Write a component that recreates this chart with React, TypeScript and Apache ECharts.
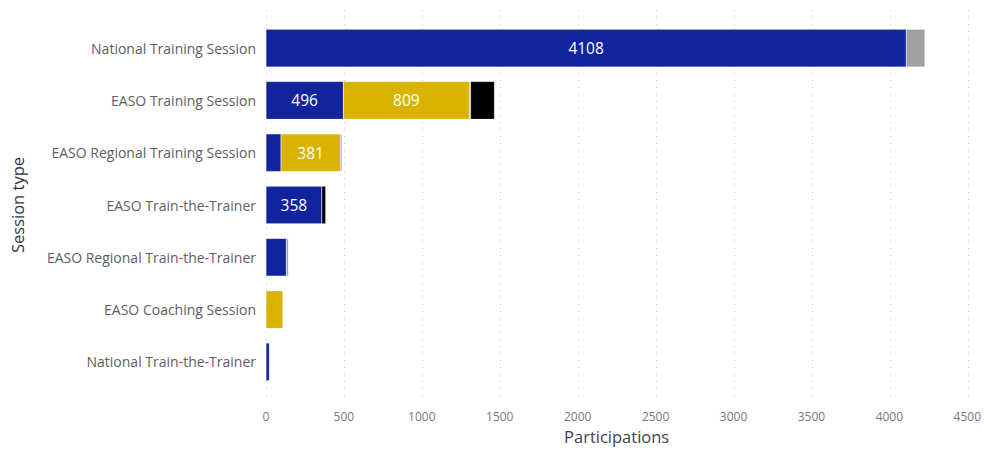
import React, { useEffect, useRef } from "react";
import * as echarts from "echarts";

const categories = [
  "National Training Session",
  "EASO Training Session",
  "EASO Regional Training Session",
  "EASO Train-the-Trainer",
  "EASO Regional Train-the-Trainer",
  "EASO Coaching Session",
  "National Train-the-Trainer",
];

const blueValues = [4108, 496, 96, 358, 130, 0, 22];
const yellowValues = [0, 809, 381, 0, 0, 108, 0];
const grayValues = [120, 8, 10, 0, 14, 0, 0];
const blackValues = [0, 153, 0, 25, 0, 0, 0];

const xTicks = { min: 0, max: 4500, interval: 500 };

const FONT = "'Open Sans', 'Noto Sans', sans-serif";

function toData(values: number[]) {
  return values.map((v) => ({
    value: v === 0 ? null : v,
    label: { show: v > 300 },
  }));
}

export default function App() {
  const ref = useRef<HTMLDivElement>(null);
  useEffect(() => {
    if (!ref.current) return;
    const chart = echarts.init(ref.current, null, { renderer: "svg" });
    const catLabels = [...categories].reverse();
    const rev = (a: number[]) => [...a].reverse();
    const barCommon = {
      type: "bar",
      stack: "total",
      barWidth: "72%",
      xAxisIndex: 0,
      yAxisIndex: 0,
      label: {
        show: false,
        position: "inside",
        color: "#ffffff",
        fontSize: 15.5,
        fontFamily: FONT,
      },
      itemStyle: { borderColor: "rgba(255,255,255,0.35)", borderWidth: 0.5 },
    };
    chart.setOption({
      animation: false,
      grid: [
        { left: 266, right: 16, top: 22, bottom: 52 },
        { left: 266, right: 16, top: 10, bottom: 50 },
      ],
      xAxis: [
        {
          type: "value",
          gridIndex: 0,
          min: xTicks.min,
          max: xTicks.max,
          interval: xTicks.interval,
          axisLine: { show: false },
          axisTick: { show: false },
          splitLine: { show: false },
          axisLabel: {
            color: "#777777",
            fontSize: 12,
            fontFamily: FONT,
            margin: 22,
            formatter: (v: number) => String(v),
          },
          name: "Participations",
          nameLocation: "middle",
          nameGap: 40,
          nameTextStyle: { color: "#444444", fontSize: 16.5, fontFamily: FONT },
        },
        {
          type: "value",
          gridIndex: 1,
          min: xTicks.min,
          max: xTicks.max,
          interval: xTicks.interval,
          axisLine: { show: false },
          axisTick: { show: false },
          axisLabel: { show: false },
          splitLine: {
            show: true,
            lineStyle: { color: "#c8c8c8", type: [1, 6], width: 1 },
          },
        },
      ],
      yAxis: [
        {
          type: "category",
          gridIndex: 0,
          data: catLabels,
          axisLine: { show: false },
          axisTick: { show: false },
          axisLabel: { color: "#605E5C", fontSize: 14, fontFamily: FONT, margin: 10 },
          name: "Session type",
          nameLocation: "middle",
          nameGap: 240,
          nameRotate: 90,
          nameTextStyle: { color: "#333333", fontSize: 16.5, fontFamily: FONT },
        },
        {
          type: "category",
          gridIndex: 1,
          data: catLabels,
          show: false,
        },
      ],
      series: [
        { ...barCommon, name: "Blue", data: toData(rev(blueValues)), itemStyle: { ...barCommon.itemStyle, color: "#12239E" } },
        { ...barCommon, name: "Yellow", data: toData(rev(yellowValues)), itemStyle: { ...barCommon.itemStyle, color: "#D9B300" } },
        { ...barCommon, name: "Gray", data: toData(rev(grayValues)), itemStyle: { ...barCommon.itemStyle, color: "#A0A0A0" } },
        { ...barCommon, name: "Black", data: toData(rev(blackValues)), itemStyle: { ...barCommon.itemStyle, color: "#000000" } },
      ],
    });
    return () => chart.dispose();
  }, []);
  return (
    <div
      ref={ref}
      style={{ position: "fixed", left: 0, top: 0, width: 984, height: 450, background: "#fff" }}
    />
  );
}
